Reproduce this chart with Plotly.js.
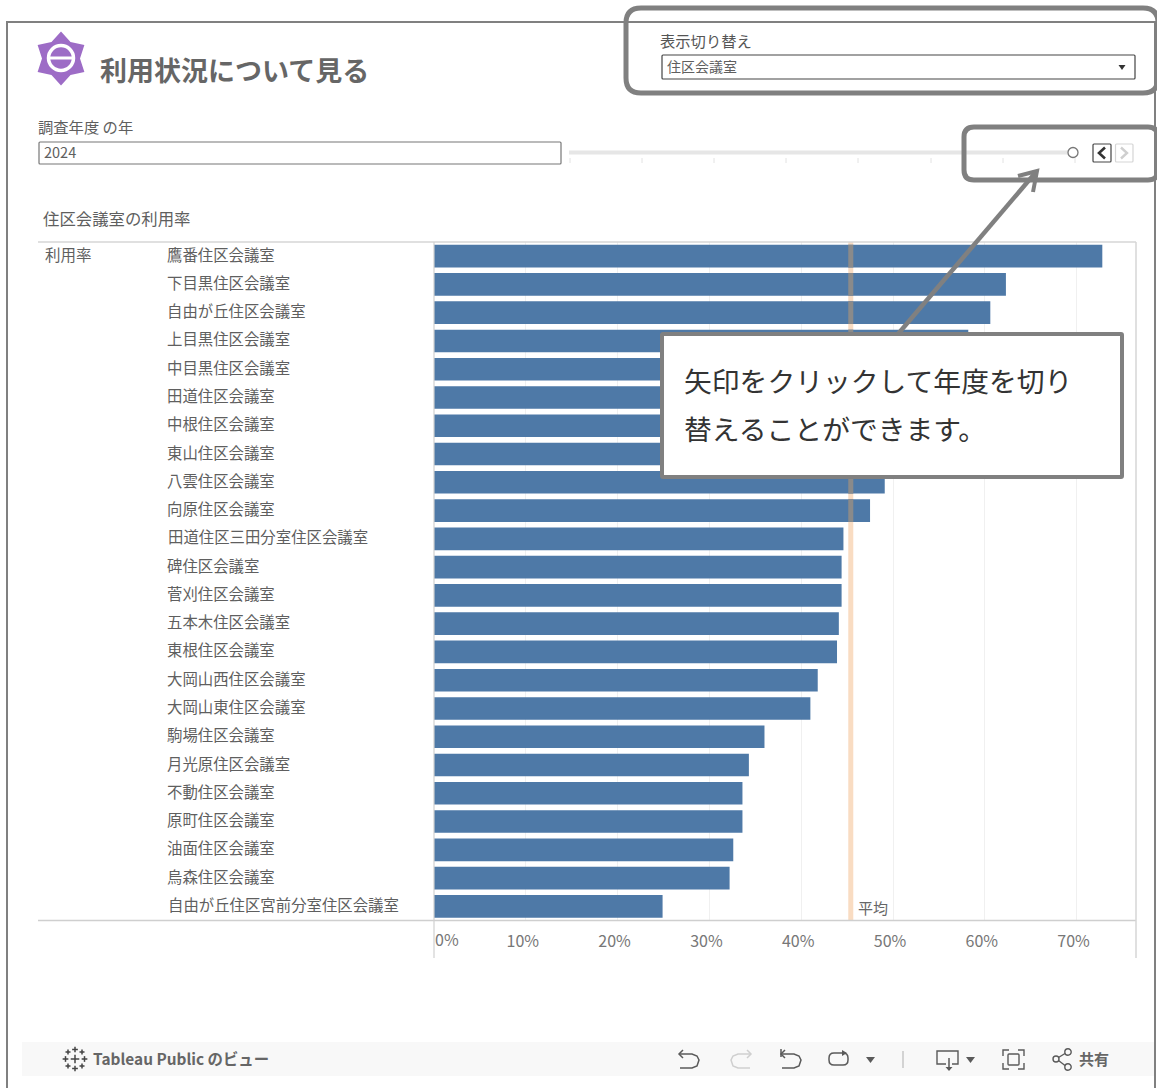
<!DOCTYPE html>
<html lang="ja"><head><meta charset="utf-8">
<script src="https://cdn.plot.ly/plotly-3.0.1.min.js"></script>
<style>html,body{margin:0;padding:0;background:#fff;overflow:hidden}#c{width:1157px;height:1088px}</style>
</head><body><div id="c"></div>
<script>
const rooms = ["鷹番住区会議室","下目黒住区会議室","自由が丘住区会議室","上目黒住区会議室","中目黒住区会議室","田道住区会議室","中根住区会議室","東山住区会議室","八雲住区会議室","向原住区会議室","田道住区三田分室住区会議室","碑住区会議室","菅刈住区会議室","五本木住区会議室","東根住区会議室","大岡山西住区会議室","大岡山東住区会議室","駒場住区会議室","月光原住区会議室","不動住区会議室","原町住区会議室","油面住区会議室","烏森住区会議室","自由が丘住区宮前分室住区会議室"];
const usage = [72.8,62.3,60.6,58.2,55.5,53.5,52,50.5,49.1,47.5,44.6,44.4,44.4,44.1,43.9,41.8,41,36,34.3,33.6,33.6,32.6,32.2,24.9];
const average = 45.4;
const xTicks = [0,10,20,30,40,50,60,70];
const xTickText = ["","10%","20%","30%","40%","50%","60%","70%"];
const W = 1157, H = 1088, GRAY = "#808080", TXT = "#5f5f5f", FONT = '"Noto Sans CJK JP","Noto Sans",sans-serif';
const nx = x => x / W, ny = y => 1 - y / H;
const abovePoints = rooms.filter((r, i) => usage[i] > average);

function poly(pts, o) {
  const d = pts.map((p, i) => (i ? "L" : "M") + nx(p[0]) + " " + ny(p[1])).join(" ") + (o.close ? " Z" : "");
  return {type:"path", xref:"paper", yref:"paper", path:d, layer:o.layer||"above",
    fillcolor:o.fill||"rgba(0,0,0,0)", line:{color:o.color||"rgba(0,0,0,0)", width:o.w===undefined?1:o.w}};
}
function rrect(x0,y0,x1,y1,r,o){
  const k = (x,y)=>nx(x)+" "+ny(y);
  const d = `M${k(x0+r,y0)} L${k(x1-r,y0)} Q${k(x1,y0)} ${k(x1,y0+r)} L${k(x1,y1-r)} Q${k(x1,y1)} ${k(x1-r,y1)} L${k(x0+r,y1)} Q${k(x0,y1)} ${k(x0,y1-r)} L${k(x0,y0+r)} Q${k(x0,y0)} ${k(x0+r,y0)} Z`;
  return {type:"path", xref:"paper", yref:"paper", path:d, layer:o.layer||"above",
    fillcolor:o.fill||"rgba(0,0,0,0)", line:{color:o.color||"rgba(0,0,0,0)", width:o.w===undefined?1:o.w}};
}
function circle(cx,cy,r,o){
  return {type:"circle", xref:"paper", yref:"paper", x0:nx(cx-r), x1:nx(cx+r), y0:ny(cy+r), y1:ny(cy-r), layer:"above",
    fillcolor:o.fill||"rgba(0,0,0,0)", line:{color:o.color||"rgba(0,0,0,0)", width:o.w===undefined?1:o.w}};
}
const seg = (a,b,c,w,layer) => poly([a,b],{color:c,w:w,layer:layer});

const shapes = [];
shapes.push({type:"line", xref:"x", yref:"paper", x0:average, x1:average, y0:ny(920), y1:ny(242), layer:"below", line:{color:"#f9dcc2", width:5}});
shapes.push(poly([[7,1088],[7,22],[1155,22],[1155,1088]],{color:GRAY,w:2}));
shapes.push(seg([38,242],[1136,242],"#d6d6d6",1.5));
shapes.push(seg([38,920.5],[1136,920.5],"#cfcfcf",1.5));
shapes.push(seg([434,242],[434,958],"#d0d0d0",1.2));
shapes.push(seg([1136,242],[1136,958],"#d6d6d6",1.5));
// logo
const star = [];
for (let i=0;i<12;i++){ const a=-Math.PI/2+i*Math.PI/6, r=i%2?19:27; star.push([61+r*Math.cos(a),58.5+r*Math.sin(a)]); }
shapes.push(poly(star,{fill:"#9d6cc6",close:true,w:0}));
shapes.push(circle(61,58,12.5,{color:"#ffffff",w:3.5,fill:"#9d6cc6"}));
shapes.push(seg([49,58],[73,58],"#ffffff",3));
// input boxes
shapes.push(rrect(39,142,561,164,1,{color:"#777",w:1.2,fill:"#fff"}));
shapes.push(rrect(662,55,1135,79,1,{color:"#444",w:1.2,fill:"#fff"}));
shapes.push(poly([[1118.5,65],[1125.5,65],[1122,70]],{fill:"#333",close:true,w:0}));
// slider
shapes.push(seg([569,152.5],[1068,152.5],"#e6e6e6",4));
[570,642,714,786,858,931,1003,1075].forEach(x=>shapes.push(seg([x,158],[x,163],"#e2e2e2",1)));
shapes.push(circle(1073,152.5,5,{color:"#777",w:1.3,fill:"#fff"}));
shapes.push(rrect(1093,144,1111,162,1,{color:"#444",w:1.2,fill:"#fff"}));
shapes.push(poly([[1105,147.5],[1099,153],[1105,158.5]],{color:"#333",w:2.6}));
shapes.push(rrect(1115.5,144,1133,162,1,{color:"#d5d5d5",w:1.2,fill:"#fff"}));
shapes.push(poly([[1121,147.5],[1127,153],[1121,158.5]],{color:"#cfcfcf",w:2.4}));
// callouts
shapes.push(rrect(626,8,1158,93,15,{color:GRAY,w:5}));
shapes.push(rrect(964,127,1158,180,10,{color:GRAY,w:5}));
shapes.push(seg([898,334],[1036,172],GRAY,4.5));
shapes.push(poly([[1018,176],[1037,171],[1033,192]],{color:GRAY,w:4}));
shapes.push(rrect(662,334,1122,477,1,{color:GRAY,w:4,fill:"#fff"}));
// toolbar
shapes.push({type:"rect", xref:"paper", yref:"paper", x0:nx(22), x1:nx(1154), y0:ny(1076), y1:ny(1042), layer:"below", fillcolor:"#f8f8f8", line:{width:0}});
[[75,1059,6],[75,1049.5,4],[75,1068.5,4],[65.5,1059,4],[84.5,1059,4],[68,1052,3.5],[82,1052,3.5],[68,1066,3.5],[82,1066,3.5]].forEach(c=>{
  shapes.push(seg([c[0]-c[2]/1.4,c[1]],[c[0]+c[2]/1.4,c[1]],"#444",1.5));
  shapes.push(seg([c[0],c[1]-c[2]/1.4],[c[0],c[1]+c[2]/1.4],"#444",1.5));
});
const ICON="#5a5a5a";
function ret(x,flip,color){
  const s=flip?-1:1, c=v=>x+s*v;
  shapes.push(poly([[c(0),1054],[c(13),1054],[c(18),1056],[c(20),1060],[c(18),1066],[c(13),1068],[c(1),1068]],{color:color,w:1.5}));
  shapes.push(poly([[c(4),1050],[c(0),1054],[c(4),1058]],{color:color,w:1.5}));
}
ret(679,false,ICON); ret(751,true,"#cfcfcf"); ret(781,false,ICON);
shapes.push(seg([781,1049],[781,1057],ICON,1.5));
shapes.push(rrect(829,1053,848,1065,5,{color:ICON,w:1.5}));
shapes.push(poly([[842,1050],[847,1053],[842,1056]],{fill:ICON,close:true,w:0}));
shapes.push(poly([[866,1057],[875,1057],[870.5,1063]],{fill:ICON,close:true,w:0}));
shapes.push(seg([903,1051],[903,1068],"#bbb",1.2));
shapes.push(poly([[946,1064],[937,1064],[937,1051],[958,1051],[958,1064],[952,1064]],{color:ICON,w:1.4}));
shapes.push(seg([949,1058],[949,1070],ICON,1.5));
shapes.push(poly([[945.5,1067],[949,1071],[952.5,1067]],{fill:ICON,close:true,w:0}));
shapes.push(poly([[966,1057],[975,1057],[970.5,1063]],{fill:ICON,close:true,w:0}));
shapes.push(rrect(1008,1054,1019,1065,1,{color:ICON,w:1.4}));
[[1003,1056,1003,1050,1009,1050],[1018,1050,1024,1050,1024,1056],[1003,1063,1003,1069,1009,1069],[1018,1069,1024,1069,1024,1063]].forEach(p=>
  shapes.push(poly([[p[0],p[1]],[p[2],p[3]],[p[4],p[5]]],{color:ICON,w:1.4})));
shapes.push(circle(1056,1059,3,{color:ICON,w:1.4}));
shapes.push(circle(1068,1052,3.2,{color:ICON,w:1.4}));
shapes.push(circle(1068,1067,3.2,{color:ICON,w:1.4}));
shapes.push(seg([1058.5,1057.5],[1065,1053.5],ICON,1.4));
shapes.push(seg([1058.5,1060.5],[1065,1065.5],ICON,1.4));

function label(text,x,y,size,color,extra){
  return Object.assign({xref:"paper",yref:"paper",x:nx(x),y:ny(y),xanchor:"left",yanchor:"middle",text:text,showarrow:false,
    font:{family:FONT,size:size,color:color},align:"left",borderpad:0},extra||{});
}
const annotations = [
  label("<b>利用状況について見る</b>",99,69,27,"#666"),
  label("調査年度 の年",37,126,15.3,TXT),
  label("2024",43,152,14.5,TXT),
  label("表示切り替え",659,40,15.3,"#555"),
  label("住区会議室",666,66,14,TXT),
  label("住区会議室の利用率",42,218,16.4,TXT),
  label("利用率",44,254,15.5,TXT),
  label("0%",434,939,16,"#777"),
  label("Tableau Public のビュー",92,1058,15.4,"#666",{font:{family:FONT,size:15.4,color:"#666",weight:600}}),
  label("<b>共有</b>",1078,1058,15,"#666"),
  label("矢印をクリックして年度を切り",683,380,27.8,"#333"),
  label("替えることができます。",683,428,27.8,"#333"),
  {xref:"x",yref:"y",x:average,y:rooms[rooms.length-1],xanchor:"left",yanchor:"middle",xshift:5,yshift:-1,text:"平均",showarrow:false,font:{family:FONT,size:15,color:"#666"}}
];
rooms.forEach(r=>annotations.push({xref:"paper",yref:"y",x:nx(165.5),y:r,xanchor:"left",yanchor:"middle",yshift:2.5,text:r,showarrow:false,font:{family:FONT,size:15.4,color:TXT}}));

const traces = [
  {type:"bar",orientation:"h",y:rooms,x:usage,marker:{color:"#4e79a7",line:{width:0}},width:0.8,hoverinfo:"skip"},
  {type:"bar",orientation:"h",y:abovePoints,x:abovePoints.map(()=>0.55),base:abovePoints.map(()=>average-0.275),marker:{color:"#8a8a8a",line:{width:0}},width:0.8,hoverinfo:"skip"}
];
const layout = {
  width:W,height:H,margin:{l:0,r:0,t:0,b:0},paper_bgcolor:"#fff",plot_bgcolor:"#fff",showlegend:false,barmode:"overlay",
  font:{family:FONT},
  xaxis:{domain:[434/W,1136/W],range:[0,76.47],tickmode:"array",tickvals:xTicks,ticktext:xTickText,showgrid:true,gridcolor:"#f0f0f0",gridwidth:1,
    zeroline:false,showline:false,ticks:"outside",ticklen:6,tickcolor:"rgba(0,0,0,0)",ticklabelshift:-3,tickfont:{family:FONT,size:16,color:"#777"},fixedrange:true},
  yaxis:{domain:[1-920.5/H,1-242/H],type:"category",categoryorder:"array",categoryarray:rooms,range:[23.5,-0.5],showticklabels:false,ticks:"",showgrid:false,zeroline:false,showline:false,fixedrange:true},
  shapes:shapes,annotations:annotations
};
Plotly.newPlot("c",traces,layout,{displayModeBar:false,responsive:false});
</script></body></html>
